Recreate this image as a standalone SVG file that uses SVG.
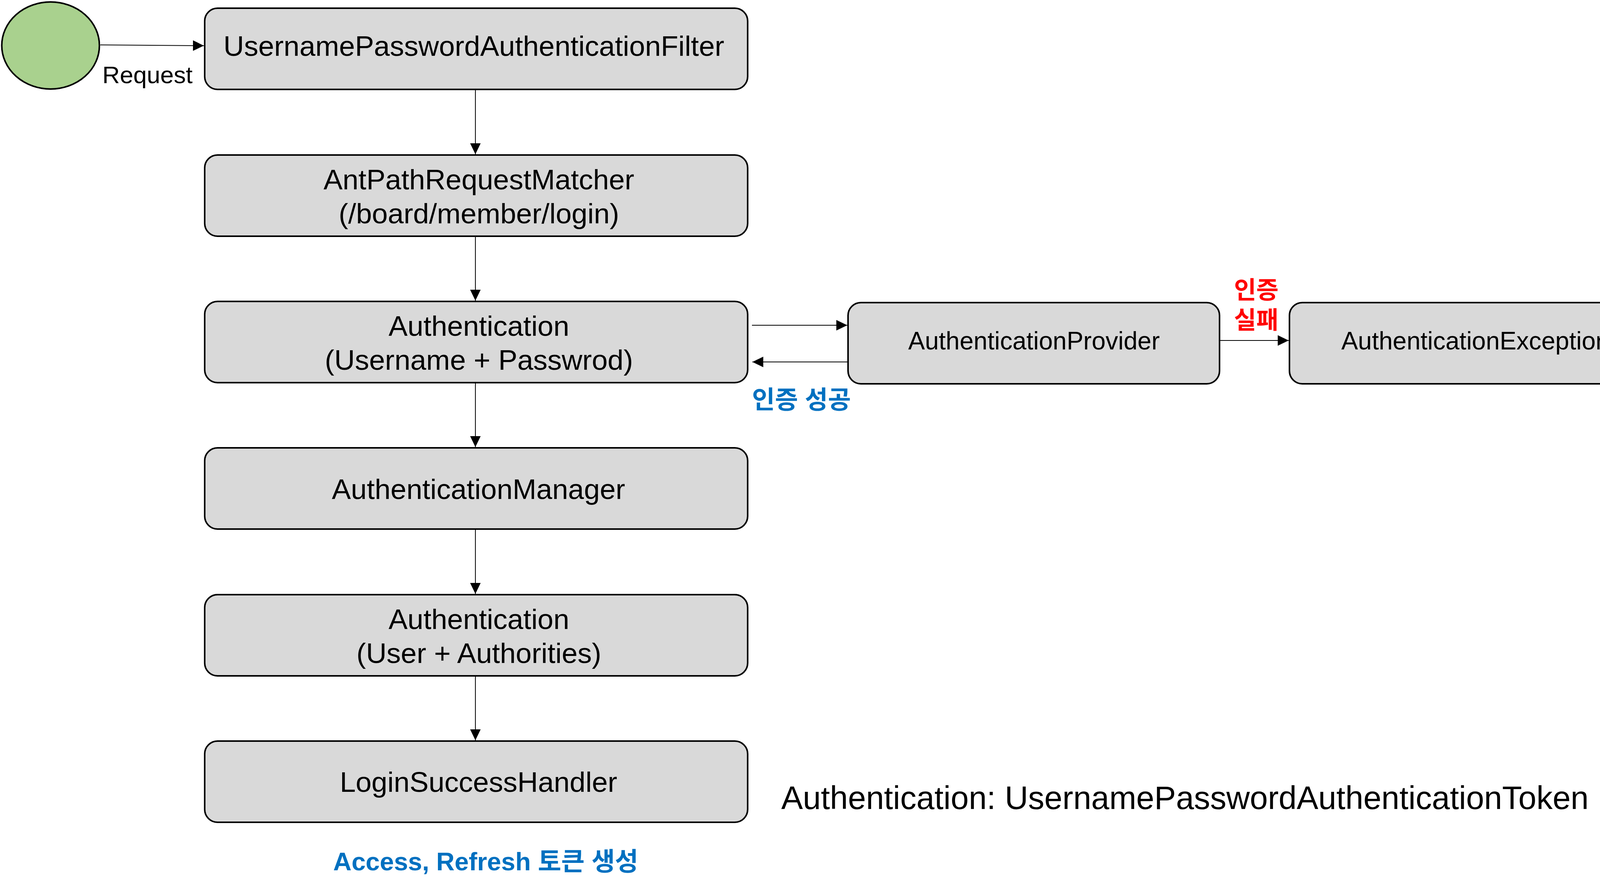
<svg xmlns="http://www.w3.org/2000/svg" width="4257" height="2282" viewBox="0 0 4257 2282">
<style>
.box{fill:#D9D9D9;stroke:#000;stroke-width:4}
.t{font-family:"Liberation Sans",Arial,sans-serif;fill:#000;text-anchor:middle}
.big{font-size:73px}
.mid{font-size:64px}
.conn{stroke:#000;stroke-width:2;fill:none}
.ko{font-family:"Liberation Sans","Noto Sans CJK KR",sans-serif;font-weight:bold}
</style>
<defs>
<marker id="ah" markerUnits="userSpaceOnUse" markerWidth="28" markerHeight="28" viewBox="0 0 27 26" refX="27" refY="13" orient="auto">
<path d="M0,0 L27,13 L0,26 z" fill="#000"/>
</marker>
</defs>
<rect width="4257" height="2282" fill="#fff"/>
<g id="start">
<ellipse cx="129.5" cy="116.5" rx="125" ry="111.5" fill="#A9D18E" stroke="#000" stroke-width="4"/>
</g>
<g id="connectors">
<path class="conn" d="M257,115 L522,117" marker-end="url(#ah)"/>
<path class="conn" d="M1217,231 L1217,395" marker-end="url(#ah)"/>
<path class="conn" d="M1217,606 L1217,770" marker-end="url(#ah)"/>
<path class="conn" d="M1217,982 L1217,1145" marker-end="url(#ah)"/>
<path class="conn" d="M1217,1357 L1217,1521" marker-end="url(#ah)"/>
<path class="conn" d="M1217,1733 L1217,1896" marker-end="url(#ah)"/>
<path class="conn" d="M1925,833 L2169,833" marker-end="url(#ah)"/>
<path class="conn" d="M2169,927 L1926,927" marker-end="url(#ah)"/>
<path class="conn" d="M3124,872 L3299,872" marker-end="url(#ah)"/>
<text x="262" y="213" font-family="Liberation Sans,Arial,sans-serif" font-size="62" fill="#000">Request</text>
<text class="ko" font-size="64" fill="#0070C0" x="1925" y="1046">인증 성공</text>
<text class="ko" font-size="62" fill="#FF0000" text-anchor="middle" x="3216" y="765">인증</text>
<text class="ko" font-size="62" fill="#FF0000" text-anchor="middle" x="3216" y="842">실패</text>
</g>
<g id="filter">
<rect class="box" x="524" y="21" width="1390" height="208" rx="33"/>
<text class="t big" x="1213" y="143">UsernamePasswordAuthenticationFilter</text>
</g>
<g id="matcher">
<rect class="box" x="524" y="397" width="1390" height="208" rx="33"/>
<text class="t big" x="1226" y="485">AntPathRequestMatcher</text>
<text class="t big" x="1226" y="572">(/board/member/login)</text>
</g>
<g id="auth1">
<rect class="box" x="524" y="772" width="1390" height="208" rx="33"/>
<text class="t big" x="1226" y="860">Authentication</text>
<text class="t big" x="1226" y="947">(Username + Passwrod)</text>
</g>
<g id="manager">
<rect class="box" x="524" y="1147" width="1390" height="208" rx="33"/>
<text class="t big" x="1225" y="1278">AuthenticationManager</text>
</g>
<g id="auth2">
<rect class="box" x="524" y="1523" width="1390" height="208" rx="33"/>
<text class="t big" x="1226" y="1611">Authentication</text>
<text class="t big" x="1226" y="1698">(User + Authorities)</text>
</g>
<g id="handler">
<rect class="box" x="524" y="1898" width="1390" height="208" rx="33"/>
<text class="t big" x="1225" y="2028">LoginSuccessHandler</text>
</g>
<g id="provider">
<rect class="box" x="2171" y="775" width="951" height="208" rx="33"/>
<text class="t mid" x="2647" y="895">AuthenticationProvider</text>
</g>
<g id="exception">
<rect class="box" x="3301" y="775" width="952" height="208" rx="33"/>
<text class="t mid" x="3777" y="895">AuthenticationException</text>
</g>
<g id="notes">
<text x="2000" y="2072" font-family="Liberation Sans,Arial,sans-serif" font-size="83" fill="#000">Authentication: UsernamePasswordAuthenticationToken</text>
<text class="ko" font-size="65" fill="#0070C0" x="853" y="2229">Access, Refresh 토큰 생성</text>
</g>
</svg>
